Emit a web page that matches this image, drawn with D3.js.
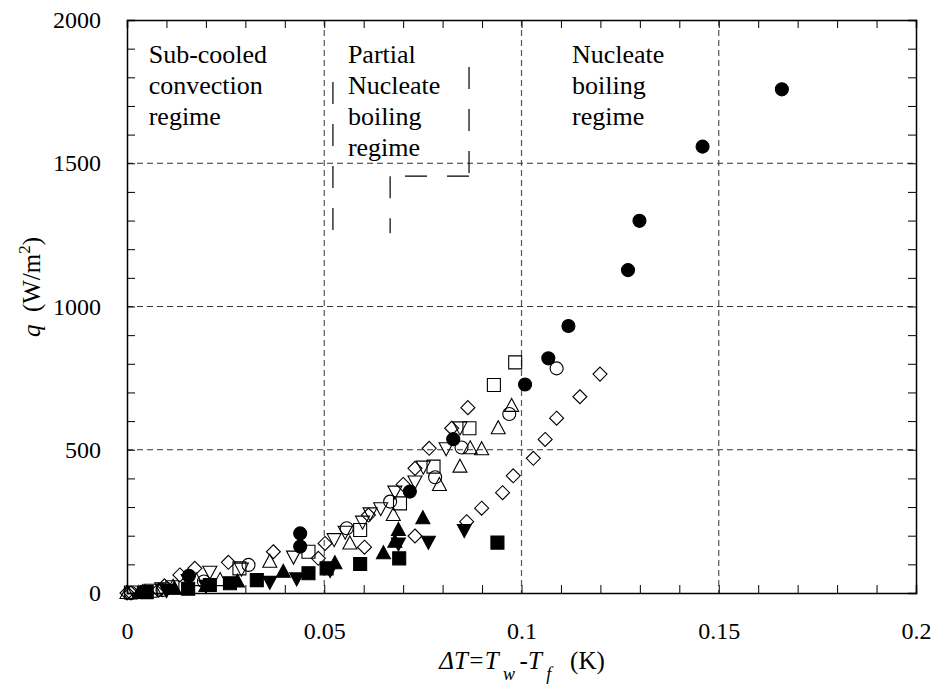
<!DOCTYPE html>
<html>
<head>
<meta charset="utf-8">
<script src="https://cdnjs.cloudflare.com/ajax/libs/d3/7.8.5/d3.min.js"></script>
<style>
  body { margin: 0; background: #fff; }
  svg text { font-family: "Liberation Serif", "Times New Roman", Times, serif; fill: #000; }
</style>
</head>
<body>
<div id="container"></div>
<script>
// data: [dT (K), q (W/m2)]
let filledCircle = [[0.0157,60],[0.0439,162],[0.0439,208],[0.0717,354],[0.0827,537],[0.1009,728],[0.1068,819],[0.1119,932],[0.127,1127],[0.1299,1299],[0.1459,1558],[0.166,1758]]
let openCircle = [[0.001,0],[0.009,10],[0.0195,40],[0.0308,98],[0.0557,226],[0.0667,319],[0.0781,404],[0.0848,508],[0.0969,625],[0.1089,784]]
let openSquare = [[0.001,2],[0.006,8],[0.0115,20],[0.0285,86],[0.046,144],[0.0591,220],[0.0692,313],[0.0777,441],[0.0868,575],[0.093,726],[0.0984,805]]
let filledSquare = [[0.005,3],[0.0155,15],[0.021,28],[0.0261,34],[0.0329,45],[0.046,69],[0.0506,86],[0.0591,101],[0.069,121],[0.0939,176]]
let diamondUpper = [[0,0],[0.004,5],[0.0095,25],[0.0134,63],[0.0172,86],[0.0257,107],[0.0371,144],[0.0502,173],[0.0612,272],[0.070,379],[0.073,435],[0.0766,505],[0.0823,575],[0.0864,647]]
let diamondLower = [[0.001,0],[0.008,10],[0.0485,121],[0.0602,160],[0.073,199],[0.0861,249],[0.0899,296],[0.0952,350],[0.0979,409],[0.103,470],[0.106,536],[0.1089,610],[0.1148,685],[0.1199,764]]
let triUpOpen = [[0,0],[0.0046,0],[0.0117,22],[0.0175,45],[0.0236,45],[0.0362,109],[0.0565,173],[0.0675,272],[0.0792,377],[0.0844,441],[0.087,505],[0.0899,502],[0.0941,575],[0.0975,653]]
let triDownOpen = [[0.0088,16],[0.0155,45],[0.021,74],[0.029,85],[0.0422,127],[0.0525,188],[0.0553,214],[0.0597,249],[0.0616,278],[0.0643,296],[0.0679,354],[0.073,389],[0.0751,441],[0.0809,505],[0.0844,578]]
let triUpFilled = [[0.003,0],[0.012,15],[0.02,25],[0.028,40],[0.0396,74],[0.0527,104],[0.065,139],[0.0679,179],[0.0688,220],[0.075,261]]
let triDownFilled = [[0.01,10],[0.02,25],[0.0362,39],[0.043,51],[0.0515,80],[0.0688,173],[0.0764,179],[0.0855,220]]

let xTickLabels = [0, 0.05, 0.1, 0.15, 0.2]
let yTickLabels = [0, 500, 1000, 1500, 2000]

let regimeText = [
  {x: 0.0055, y: 1850, lines: ['Sub-cooled', 'convection', 'regime']},
  {x: 0.0560, y: 1850, lines: ['Partial', 'Nucleate', 'boiling', 'regime']},
  {x: 0.1128, y: 1850, lines: ['Nucleate', 'boiling', 'regime']}
]
// long-dash lines around the partial boiling label
let dashSegments = [
  [[0.0522,1784],[0.0522,1256]],
  [[0.0867,1836],[0.0867,1455]],
  [[0.0867,1455],[0.0667,1455]],
  [[0.0667,1455],[0.0667,1256]]
]

let svgWidth = 933, svgHeight = 686
let margin = {top: 20, left: 127, right: 17, bottom: 93}
let width = svgWidth - margin.left - margin.right
let height = svgHeight - margin.top - margin.bottom

let x = d3.scaleLinear().domain([0, 0.2]).range([0, width])
let y = d3.scaleLinear().domain([0, 2000]).range([height, 0])

let svg = d3.select('#container').append('svg')
  .attr('width', svgWidth).attr('height', svgHeight)
let g = svg.append('g').attr('transform', 'translate(' + margin.left + ',' + margin.top + ')')

// grid
g.selectAll('.vgrid').data([0.05, 0.1, 0.15]).enter().append('line')
  .attr('x1', d => x(d)).attr('x2', d => x(d)).attr('y1', 0).attr('y2', height)
  .attr('stroke', '#555').attr('stroke-width', 1.2).attr('stroke-dasharray', '6,4')
g.selectAll('.hgrid').data([500, 1000, 1500]).enter().append('line')
  .attr('x1', 0).attr('x2', width).attr('y1', d => y(d)).attr('y2', d => y(d))
  .attr('stroke', '#333').attr('stroke-width', 1.2).attr('stroke-dasharray', '6,4')

// axes with inward ticks
let fmtX = d => xTickLabels.some(v => Math.abs(v - d) < 1e-9) ? String(+d.toFixed(2)) : ''
let fmtY = d => yTickLabels.indexOf(Math.round(d)) >= 0 ? String(Math.round(d)) : ''

g.append('g').attr('transform', 'translate(0,' + height + ')')
  .call(d3.axisBottom(x).tickValues(d3.range(0, 21).map(i => i / 100)).tickSize(-8).tickPadding(29).tickFormat(fmtX))
g.append('g')
  .call(d3.axisTop(x).tickValues(d3.range(0, 21).map(i => i / 100)).tickSize(-8).tickFormat(''))
g.append('g')
  .call(d3.axisLeft(y).tickValues(d3.range(0, 21).map(i => i * 100)).tickSize(-8).tickPadding(26).tickFormat(fmtY))
g.append('g').attr('transform', 'translate(' + width + ',0)')
  .call(d3.axisRight(y).tickValues(d3.range(0, 21).map(i => i * 100)).tickSize(-8).tickFormat(''))

svg.selectAll('.domain').attr('stroke', '#000').attr('stroke-width', 1.5)
svg.selectAll('.tick line').attr('stroke', '#000').attr('stroke-width', 1)
svg.selectAll('.tick text').attr('font-size', 24)

// dashed annotation lines
let line = d3.line().x(d => x(d[0])).y(d => y(d[1]))
g.selectAll('.ann').data(dashSegments).enter().append('path')
  .attr('d', line).attr('fill', 'none').attr('stroke', '#000')
  .attr('stroke-width', 1.2).attr('stroke-dasharray', '22,20')

// regime labels
regimeText.forEach(r => {
  let t = g.append('text').attr('x', x(r.x)).attr('y', y(r.y)).attr('font-size', 26)
  r.lines.forEach((s, i) => {
    t.append('tspan').attr('x', x(r.x)).attr('dy', i === 0 ? 0 : 31).text(s)
  })
})

// markers
let shapes = {
  circle: 'M6.5,0A6.5,6.5 0 1,1 -6.5,0A6.5,6.5 0 1,1 6.5,0Z',
  square: 'M-6.5,-6.5H6.5V6.5H-6.5Z',
  diamond: 'M0,-7L7,0L0,7L-7,0Z',
  triUp: 'M0,-7.5L7,5.5L-7,5.5Z',
  triDown: 'M0,7.5L7,-5.5L-7,-5.5Z'
}
let series = [
  {data: diamondUpper, shape: 'diamond', filled: false},
  {data: diamondLower, shape: 'diamond', filled: false},
  {data: openSquare, shape: 'square', filled: false},
  {data: openCircle, shape: 'circle', filled: false},
  {data: triUpOpen, shape: 'triUp', filled: false},
  {data: triDownOpen, shape: 'triDown', filled: false},
  {data: filledSquare, shape: 'square', filled: true},
  {data: triUpFilled, shape: 'triUp', filled: true},
  {data: triDownFilled, shape: 'triDown', filled: true},
  {data: filledCircle, shape: 'circle', filled: true}
]
series.forEach(s => {
  g.append('g').selectAll('path').data(s.data).enter().append('path')
    .attr('d', shapes[s.shape])
    .attr('transform', d => 'translate(' + x(d[0]) + ',' + y(d[1]) + ')')
    .attr('fill', s.filled ? '#000' : 'none')
    .attr('stroke', '#000').attr('stroke-width', 1.1)
})

// axis titles
let yt = svg.append('text').attr('transform', 'translate(40,287) rotate(-90)')
  .attr('text-anchor', 'middle').attr('font-size', 25)
yt.append('tspan').attr('font-style', 'italic').text('q')
yt.append('tspan').text('\u00a0 (W/m')
yt.append('tspan').attr('font-size', 17).attr('dy', -10).text('2')
yt.append('tspan').attr('dy', 10).text(')')

let xt = svg.append('text').attr('x', 522).attr('y', 669)
  .attr('text-anchor', 'middle').attr('font-size', 25)
xt.append('tspan').attr('font-style', 'italic').text('\u0394T=T')
xt.append('tspan').attr('font-style', 'italic').attr('font-size', 18).attr('dy', 11).text('\u00a0w\u00a0')
xt.append('tspan').attr('dy', -11).text('-')
xt.append('tspan').attr('font-style', 'italic').text('T')
xt.append('tspan').attr('font-style', 'italic').attr('font-size', 18).attr('dy', 11).text('\u00a0f')
xt.append('tspan').attr('dy', -11).text('\u00a0\u00a0 (K)')
</script>
</body>
</html>
